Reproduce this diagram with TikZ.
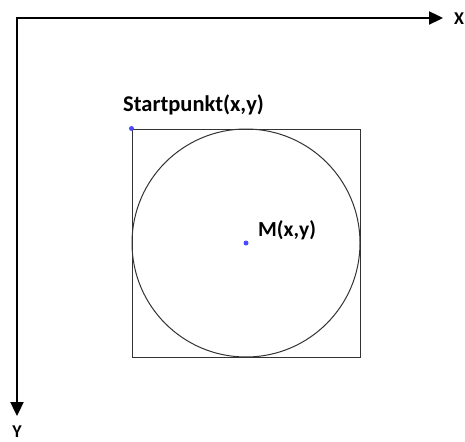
\documentclass[tikz,border=0pt]{standalone}
\usepackage{fontspec}
\setmainfont{Carlito}
\usetikzlibrary{arrows.meta,positioning}

\begin{document}
\begin{tikzpicture}[x=1pt,y=-1pt,
  achse/.style={-{Triangle[length=14pt,width=13pt]}, line width=2.3pt},
  lbl/.style={inner sep=0pt},
  punkt/.style={circle, fill=blue!70!white, inner sep=0pt, minimum size=5pt},
  form/.style={draw=black!80, line width=1pt, inner sep=0pt},
]
\useasboundingbox (0,0) rectangle (465,441);
\coordinate (ursprung) at (17,18);
\coordinate (xende) at (443,18);
\coordinate (yende) at (17,416);
\draw[achse] ([xshift=-1.15pt]ursprung) -- (xende);
\draw[achse] (ursprung) -- (yende);
\node[lbl, font=\bfseries\fontsize{18}{18}\selectfont, anchor=base] (xlabel) at (459,25) {X};
\node[lbl, font=\bfseries\fontsize{18}{18}\selectfont, anchor=base] (ylabel) at (17,437) {Y};

\node[form, rectangle, minimum size=228pt] (quadrat) at (246,243) {};
\node[form, circle, minimum size=228pt] (kreis) at (quadrat.center) {};

\node[punkt] (start) at (quadrat.north west) {};
\node[punkt] (mitte) at (quadrat.center) {};
\node[lbl, font=\bfseries\fontsize{22.5}{22.5}\selectfont, anchor=base west] (startlabel) at (123,111) {Startpunkt(x,y)};
\node[lbl, font=\bfseries\fontsize{21.5}{21.5}\selectfont, anchor=base west] (mlabel) at (258,236) {M(x,y)};
\end{tikzpicture}
\end{document}
